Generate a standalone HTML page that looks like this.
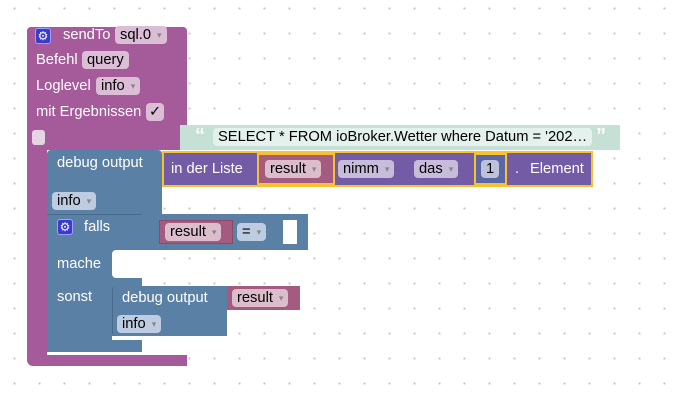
<!DOCTYPE html>
<html><head><meta charset="utf-8"><style>
body{margin:0;width:688px;height:401px;overflow:hidden;background:#fff;
background-image:radial-gradient(circle,#c8c8c8 1px,transparent 1.3px);background-size:25px 25px;background-position:2px -4px;
font-family:"Liberation Sans",sans-serif;font-size:14.7px;position:relative}
.a{position:absolute;box-sizing:border-box}
.t{position:absolute;color:#fff;white-space:nowrap;line-height:16px}
.f{position:absolute;border-radius:4px;color:#000;padding:0 5px;line-height:18px;height:18px;white-space:nowrap;box-sizing:border-box}
.dd::after{content:"▾";font-size:9px;color:#888;margin-left:6px;vertical-align:1px}
.gear{position:absolute;width:16px;height:16px;background:#3a3ad0;border:1px solid #a0a0ff;border-radius:3px;color:#fff;font-size:12px;line-height:15px;text-align:center;box-sizing:border-box}
</style></head><body>
<div class="a" style="left:27px;top:27px;width:160px;height:123px;background:#a55b99;border-radius:4px 4px 0 0"></div>
<div class="a" style="left:27px;top:140px;width:20px;height:220px;background:#a55b99"></div>
<div class="a" style="left:27px;top:355px;width:160px;height:11px;background:#a55b99;border-radius:0 0 0 6px"></div>
<div class="gear" style="left:35px;top:28px">⚙</div>
<div class="t" style="left:63px;top:27px">sendTo</div>
<div class="f dd" style="left:115px;top:26px;background:#dbbdd6">sql.0</div>
<div class="t" style="left:36px;top:52px">Befehl</div>
<div class="f" style="left:82px;top:51px;background:#dbbdd6">query</div>
<div class="t" style="left:36px;top:78px">Loglevel</div>
<div class="f dd" style="left:96px;top:77px;background:#dbbdd6">info</div>
<div class="t" style="left:36px;top:104px">mit Ergebnissen</div>
<div class="f" style="left:146px;top:103px;background:#dbbdd6;padding:0 3px">✓</div>
<div class="a" style="left:32px;top:130px;width:13px;height:15px;background:#e6d3e3;border-radius:3px"></div>
<div class="a" style="left:180px;top:125px;width:440px;height:25px;background:#c5e1d6"></div>
<div class="t" style="left:195px;top:128px;color:#fff;font-weight:bold;font-size:20px">“</div>
<div class="f" style="left:213px;top:128px;background:#e4f1ec;width:379px">SELECT * FROM ioBroker.Wetter where Datum = '202…</div>
<div class="t" style="left:596px;top:128px;color:#fff;font-weight:bold;font-size:20px">”</div>
<div class="a" style="left:47px;top:150px;width:115px;height:64px;background:#5b80a5;border-radius:4px 4px 0 0"></div>
<div class="t" style="left:57px;top:155px">debug output</div>
<div class="f dd" style="left:52px;top:192px;background:#bdcce0">info</div>
<div class="a" style="left:162px;top:151px;width:431px;height:36px;background:#745ba5;border:2px solid #f6c22f"></div>
<div class="t" style="left:171px;top:161px">in der Liste</div>
<div class="a" style="left:257px;top:153px;width:78px;height:32px;background:#a55b80;border:2px solid #f6c22f"></div>
<div class="f dd" style="left:265px;top:160px;background:#dbbdcc">result</div>
<div class="f dd" style="left:338px;top:160px;background:#c7bddb">nimm</div>
<div class="f dd" style="left:414px;top:160px;background:#c7bddb">das</div>
<div class="a" style="left:474px;top:153px;width:33px;height:32px;background:#5b67a5;border:2px solid #f6c22f"></div>
<div class="f" style="left:481px;top:160px;background:#bdc2db">1</div>
<div class="t" style="left:515px;top:161px">.</div>
<div class="t" style="left:530px;top:161px">Element</div>
<div class="a" style="left:47px;top:214px;width:95px;height:138px;background:#5b80a5;border-top:1px solid #4a6a8a"></div>
<div class="a" style="left:142px;top:214px;width:166px;height:36px;background:#5b80a5"></div>
<div class="a" style="left:112px;top:250px;width:30px;height:28px;background:#fff;border-radius:4px 0 0 4px"></div>
<div class="gear" style="left:57px;top:219px">⚙</div>
<div class="t" style="left:84px;top:219px">falls</div>
<div class="a" style="left:159px;top:220px;width:74px;height:24px;background:#a55b80;border:1px solid #8a4a6a"></div>
<div class="f dd" style="left:165px;top:223px;background:#dbbdcc">result</div>
<div class="f dd" style="left:237px;top:223px;background:#bdcce0">=</div>
<div class="a" style="left:283px;top:220px;width:14px;height:24px;background:#fff"></div>
<div class="t" style="left:57px;top:256px">mache</div>
<div class="t" style="left:57px;top:289px">sonst</div>
<div class="a" style="left:112px;top:286px;width:115px;height:50px;background:#5b80a5;border-radius:4px 0 0 4px;border-left:1px solid #4a6a8a"></div>
<div class="a" style="left:112px;top:336px;width:30px;height:4px;background:#fff"></div>
<div class="t" style="left:122px;top:290px">debug output</div>
<div class="f dd" style="left:117px;top:315px;background:#bdcce0">info</div>
<div class="a" style="left:227px;top:286px;width:73px;height:24px;background:#a55b80"></div>
<div class="f dd" style="left:232px;top:289px;background:#dbbdcc">result</div>
</body></html>
